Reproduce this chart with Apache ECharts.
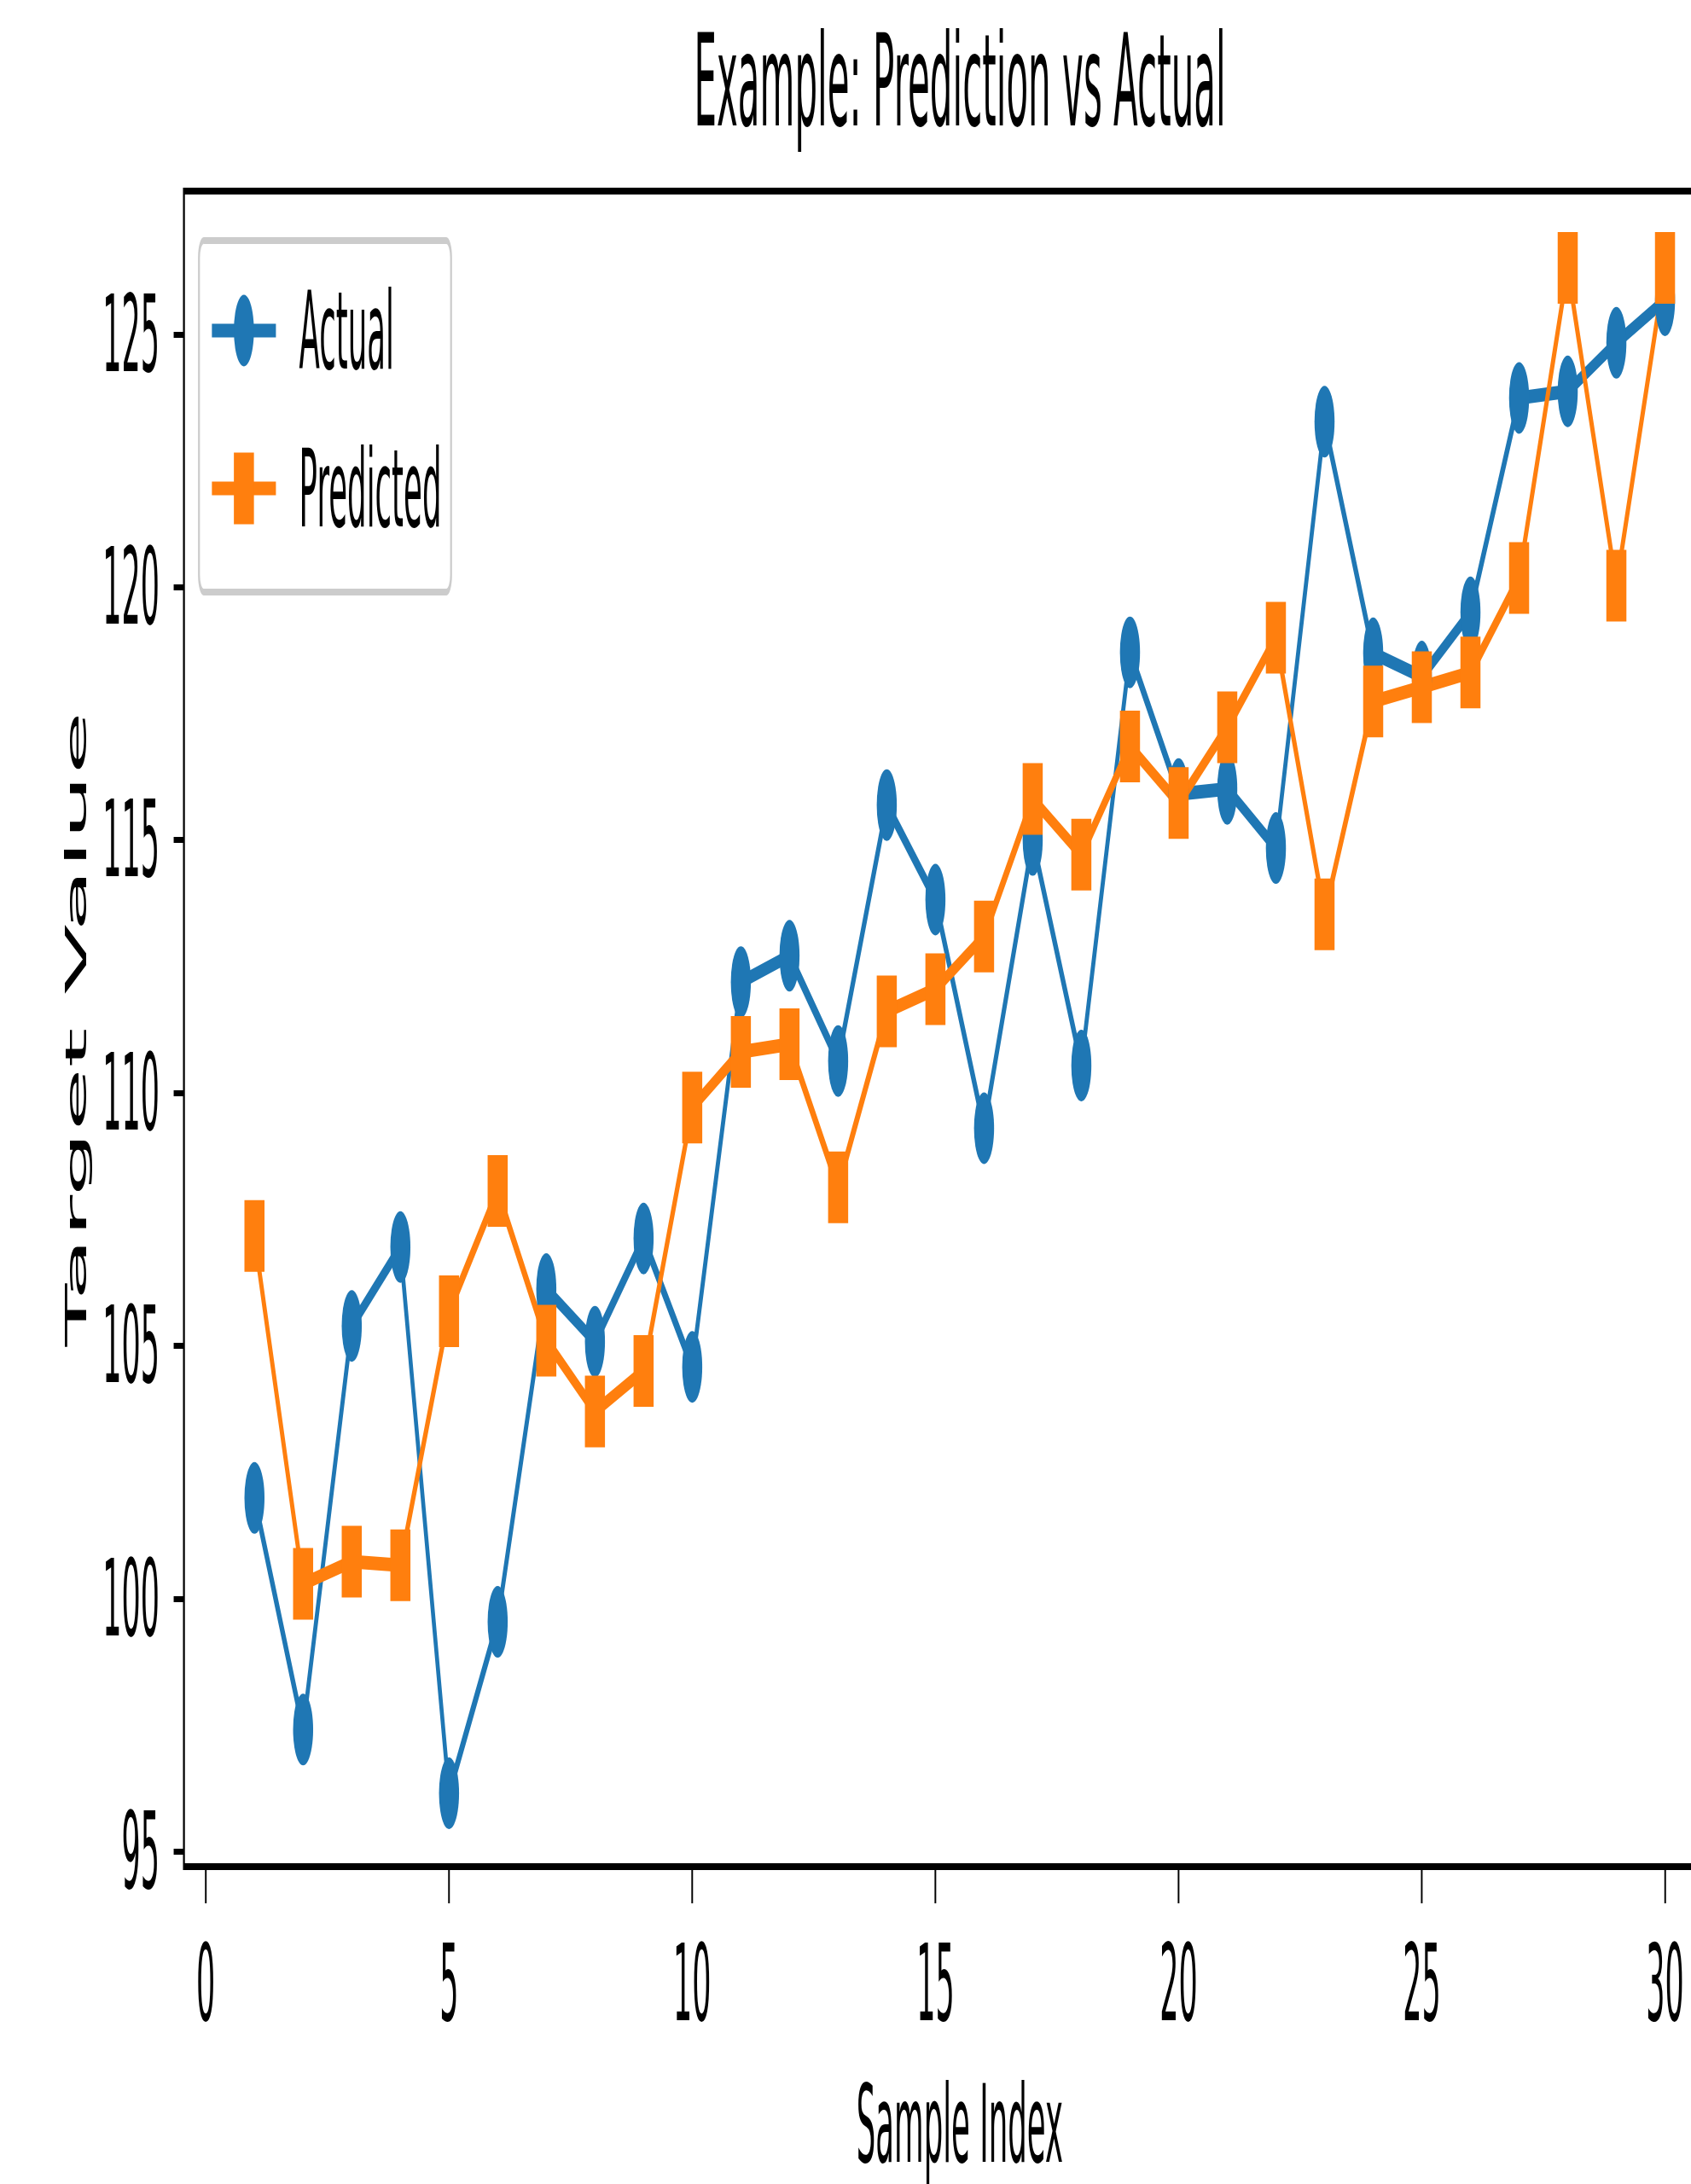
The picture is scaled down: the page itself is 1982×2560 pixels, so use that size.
<!DOCTYPE html>
<html>
<head>
<meta charset="utf-8">
<script src="https://cdn.jsdelivr.net/npm/echarts@6/dist/echarts.min.js"></script>
<style>
html, body { margin: 0; padding: 0; background: #fff; overflow: hidden; }
#wrap { width: 1982px; height: 2560px; overflow: hidden; position: relative; background: #fff; }
#main { width: 7079px; height: 2560px; transform: scaleX(0.28); transform-origin: 0 0; position: absolute; left: 0; top: 0; }
</style>
</head>
<body>
<div id="wrap"><div id="main"></div></div>
<script>
const titleText = 'Example: Prediction vs Actual';
const xName = 'Sample Index';
const yName = 'Target Value';
const seriesNames = ['Actual', 'Predicted'];
const sampleIndex = [1, 2, 3, 4, 5, 6, 7, 8, 9, 10, 11, 12, 13, 14, 15, 16, 17, 18, 19, 20, 21, 22, 23, 24, 25, 26, 27, 28, 29, 30];
const actual = [101.99, 97.41, 105.39, 106.95, 96.15, 99.54, 106.12, 105.08, 107.12, 104.58,
                112.19, 112.71, 110.63, 115.69, 113.82, 109.30, 115.00, 110.54, 118.71, 115.91,
                116.01, 114.84, 123.27, 118.69, 118.23, 119.50, 123.74, 123.87, 124.83, 125.67];
const predicted = [107.17, 100.29, 100.73, 100.66, 105.68, 108.06, 105.10, 103.70, 104.50, 109.71,
                   110.81, 110.96, 108.13, 111.61, 112.05, 113.09, 115.81, 114.71, 116.85, 115.73,
                   117.23, 119.00, 113.53, 117.74, 118.02, 118.31, 120.18, 126.31, 120.03, 126.31];
const xTicks = [0, 5, 10, 15, 20, 25, 30];
const yTicks = [95, 100, 105, 110, 115, 120, 125];

const FONT = 'DejaVu Sans';
const BLUE = '#1f77b4';
const ORANGE = '#ff7f0e';

const chart = echarts.init(document.getElementById('main'), null, { renderer: 'svg' });

const option = {
  animation: false,
  backgroundColor: '#ffffff',
  title: {
    text: titleText,
    left: 4018,
    top: 20,
    padding: 0,
    textAlign: 'center',
    textStyle: { fontSize: 150, fontWeight: 'normal', fontFamily: FONT, color: '#000' }
  },
  legend: {
    data: seriesNames,
    orient: 'vertical',
    left: 833,
    top: 282,
    padding: [42, 40, 58, 46],
    itemWidth: 268,
    itemHeight: 105,
    itemGap: 58,
    selectedMode: false,
    backgroundColor: 'rgba(255,255,255,0.8)',
    borderColor: '#cccccc',
    borderWidth: 8,
    borderRadius: 20,
    lineStyle: { width: 16 },
    textStyle: { fontSize: 127, lineHeight: 127, fontFamily: FONT, color: '#000', padding: [0, 0, 0, 92] }
  },
  grid: {
    left: 770,
    top: 224,
    width: 6495,
    height: 1964,
    show: true,
    borderColor: '#000',
    borderWidth: 8,
    backgroundColor: 'transparent',
    containLabel: false,
    outerBoundsMode: 'none'
  },
  xAxis: {
    type: 'value',
    min: -0.45,
    max: 31.45,
    name: xName,
    nameLocation: 'middle',
    nameGap: 238,
    nameMoveOverlap: false,
    nameTextStyle: { fontSize: 127, lineHeight: 127, fontFamily: FONT, color: '#000' },
    axisLine: { show: false, onZero: false },
    axisTick: { show: true, customValues: xTicks, length: 43, lineStyle: { color: '#000', width: 7 } },
    axisLabel: { customValues: xTicks, fontSize: 125, fontFamily: FONT, color: '#000', margin: 75 },
    splitLine: { show: false }
  },
  yAxis: {
    type: 'value',
    min: 94.70,
    max: 127.83,
    name: yName,
    nameLocation: 'middle',
    nameRotate: 90,
    nameGap: 390,
    nameMoveOverlap: false,
    nameTextStyle: { fontSize: 121, fontFamily: FONT, color: '#000' },
    axisLine: { show: false, onZero: false },
    axisTick: { show: true, customValues: yTicks, length: 43, lineStyle: { color: '#000', width: 7 } },
    axisLabel: { customValues: yTicks, fontSize: 125, fontFamily: FONT, color: '#000', margin: 102 },
    splitLine: { show: false }
  },
  series: [
    {
      name: seriesNames[0],
      type: 'line',
      data: sampleIndex.map((x, i) => [x, actual[i]]),
      symbol: 'circle',
      symbolSize: 84,
      showSymbol: true,
      lineStyle: { width: 16, color: BLUE },
      itemStyle: { color: BLUE },
      emphasis: { disabled: true }
    },
    {
      name: seriesNames[1],
      type: 'line',
      data: sampleIndex.map((x, i) => [x, predicted[i]]),
      symbol: 'rect',
      symbolSize: 84,
      showSymbol: true,
      lineStyle: { width: 16, color: ORANGE },
      itemStyle: { color: ORANGE },
      emphasis: { disabled: true }
    }
  ]
};
chart.setOption(option);
</script>
</body>
</html>
